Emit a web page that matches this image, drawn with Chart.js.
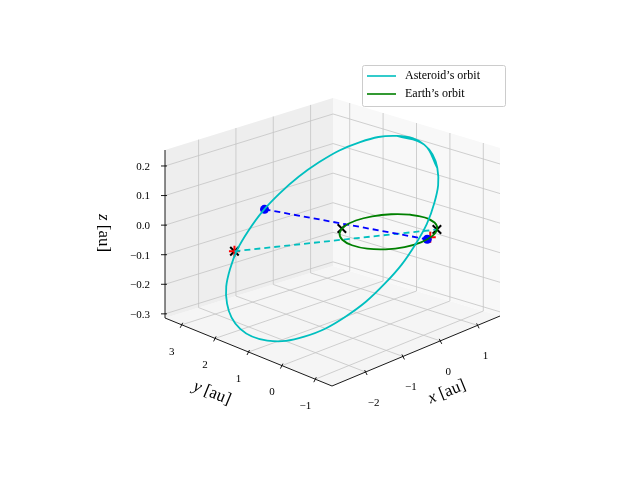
<!DOCTYPE html>
<html>
<head>
<meta charset="utf-8">
<script src="https://cdn.jsdelivr.net/npm/chart.js@4"></script>
<style>
  html, body { margin: 0; padding: 0; background: #fff; }
  canvas { display: block; }
</style>
</head>
<body>
<canvas id="chart" width="640" height="480"></canvas>
<script>
// axis limits and ticks (au)
const xLim = [-2.9, 1.6];
const yLim = [-1.5, 3.5];
const zLim = [-0.314, 0.254];
const xTicks = [-2, -1, 0, 1];
const yTicks = [-1, 0, 1, 2, 3];
const zTicks = [-0.3, -0.2, -0.1, 0.0, 0.1, 0.2];

// asteroid orbit samples (first and last overlap so the closed curve stays smooth)
const asteroidX = [1.49, 1.43, 1.054, 0.418, -0.38, -1.22, -1.974, -2.524, -2.79, -2.73, -2.354, -1.718, -0.92, -0.08, 0.674, 1.224, 1.49, 1.43, 1.054];
const asteroidY = [1.4, 0.5, -0.324, -0.945, -1.271, -1.25, -0.887, -0.237, 0.6, 1.5, 2.324, 2.945, 3.271, 3.25, 2.887, 2.237, 1.4, 0.5, -0.324];
const asteroidZ = [0.214, 0.217, 0.182, 0.115, 0.026, -0.072, -0.164, -0.235, -0.274, -0.277, -0.242, -0.175, -0.086, 0.012, 0.104, 0.175, 0.214, 0.217, 0.182];

// earth orbit samples
const earthX = [0.924, 1, 0.924, 0.707, 0.383, 0, -0.383, -0.707, -0.924, -1, -0.924, -0.707, -0.383, 0, 0.383, 0.707, 0.924, 1, 0.924];
const earthY = [-0.383, 0, 0.383, 0.707, 0.924, 1, 0.924, 0.707, 0.383, 0, -0.383, -0.707, -0.924, -1, -0.924, -0.707, -0.383, 0, 0.383];
const earthZ = [0, 0, 0, 0, 0, 0, 0, 0, 0, 0, 0, 0, 0, 0, 0, 0, 0, 0, 0];

// positions: [asteroid, earth]
const obsFirst = [[-1.368, 3.199, -0.137], [0.68, -0.73, 0]];   // crosses, cyan link
const obsSecond = [[-0.449, 3.303, -0.031], [0.19, -0.98, 0]];  // blue dots, blue link
const earthOther = [-0.5, 0.87, 0];
const predicted = [[-1.368, 3.199, -0.137], [0.3, -0.95, 0]];

function proj(x, y, z) {
  const xn = (x - xLim[0]) / (xLim[1] - xLim[0]);
  const yn = (y - yLim[0]) / (yLim[1] - yLim[0]);
  const zn = (z - zLim[0]) / (zLim[1] - zLim[0]);
  return {
    x: 332 + 168 * xn - 167 * yn,
    y: 386 - 70 * xn - 68 * yn - 168 * zn + 18 * xn * yn
  };
}
const P = p => proj(p[0], p[1], p[2]);

const serif = '"Liberation Serif", "DejaVu Serif", serif';
const fmt = v => (v < 0 ? '\u2212' : '') + Math.abs(v).toString();
const fmtZ = v => (v < 0 ? '\u2212' : '') + Math.abs(v).toFixed(1);

function line(ctx, a, b) {
  ctx.beginPath(); ctx.moveTo(a.x, a.y); ctx.lineTo(b.x, b.y); ctx.stroke();
}
function poly(ctx, pts, fill) {
  ctx.beginPath();
  pts.forEach((p, i) => i ? ctx.lineTo(p.x, p.y) : ctx.moveTo(p.x, p.y));
  ctx.closePath(); ctx.fillStyle = fill; ctx.fill();
}

const boxPlugin = {
  id: 'box3d',
  beforeDatasetsDraw(chart) {
    const ctx = chart.ctx;
    const [x0, x1] = xLim, [y0, y1] = yLim, [z0, z1] = zLim;
    ctx.save();
    // panes
    poly(ctx, [proj(x0, y0, z0), proj(x1, y0, z0), proj(x1, y1, z0), proj(x0, y1, z0)], '#f5f5f5');
    poly(ctx, [proj(x0, y1, z0), proj(x1, y1, z0), proj(x1, y1, z1), proj(x0, y1, z1)], '#eeeeee');
    poly(ctx, [proj(x1, y0, z0), proj(x1, y1, z0), proj(x1, y1, z1), proj(x1, y0, z1)], '#f8f8f8');
    // grid
    ctx.strokeStyle = '#c4c4c4'; ctx.lineWidth = 0.8;
    xTicks.forEach(v => {
      line(ctx, proj(v, y0, z0), proj(v, y1, z0));
      line(ctx, proj(v, y1, z0), proj(v, y1, z1));
    });
    yTicks.forEach(v => {
      line(ctx, proj(x0, v, z0), proj(x1, v, z0));
      line(ctx, proj(x1, v, z0), proj(x1, v, z1));
    });
    zTicks.forEach(v => {
      line(ctx, proj(x0, y1, v), proj(x1, y1, v));
      line(ctx, proj(x1, y1, v), proj(x1, y0, v));
    });
    // axis lines
    ctx.strokeStyle = '#000'; ctx.lineWidth = 0.9;
    line(ctx, proj(x0, y0, z0), proj(x1, y0, z0));
    line(ctx, proj(x0, y0, z0), proj(x0, y1, z0));
    line(ctx, proj(x0, y1, z0), proj(x0, y1, z1));
    // ticks and labels
    ctx.fillStyle = '#000';
    ctx.font = '11px ' + serif;
    ctx.textAlign = 'center'; ctx.textBaseline = 'middle';
    xTicks.forEach(v => {
      const p = proj(v, y0, z0);
      line(ctx, {x: p.x - 1, y: p.y - 2}, {x: p.x + 1.5, y: p.y + 3});
      ctx.fillText(fmt(v), p.x + 8, p.y + 31);
    });
    yTicks.forEach(v => {
      const p = proj(x0, v, z0);
      line(ctx, {x: p.x + 1, y: p.y - 2}, {x: p.x - 1.5, y: p.y + 3});
      ctx.fillText(fmt(v), p.x - 10, p.y + 27);
    });
    ctx.textAlign = 'right';
    zTicks.forEach(v => {
      const p = proj(x0, y1, v);
      line(ctx, {x: p.x + 2, y: p.y}, {x: p.x - 4, y: p.y});
      ctx.fillText(fmtZ(v), p.x - 15, p.y + 1);
    });
    // axis titles
    const title = (txt, x, y, rot) => {
      ctx.save(); ctx.translate(x, y); ctx.rotate(rot);
      ctx.font = '17px ' + serif;
      const sp = ctx.measureText(' ').width;
      const w2 = ctx.measureText(txt.slice(1)).width;
      ctx.font = 'italic 17px ' + serif;
      const w1 = ctx.measureText(txt[0]).width;
      const st = -(w1 + w2) / 2;
      ctx.textAlign = 'left';
      ctx.fillText(txt[0], st, 0);
      ctx.font = '17px ' + serif;
      ctx.fillText(txt.slice(1), st + w1, 0);
      ctx.restore();
    };
    title('x [au]', 447, 392, -0.39);
    title('y [au]', 212, 393, 0.39);
    title('z [au]', 103, 233, Math.PI / 2);
    ctx.restore();
  },
  afterDraw(chart) {
    const ctx = chart.ctx;
    ctx.save();
    ctx.fillStyle = 'rgba(255,255,255,0.85)';
    ctx.strokeStyle = '#cccccc'; ctx.lineWidth = 1;
    ctx.beginPath(); ctx.roundRect(362.5, 65.5, 143, 41, 2); ctx.fill(); ctx.stroke();
    const items = [['Asteroid\u2019s orbit', '#00bfbf'], ['Earth\u2019s orbit', '#008000']];
    ctx.font = '12px ' + serif; ctx.textBaseline = 'middle'; ctx.textAlign = 'left';
    items.forEach((it, i) => {
      const y = 76 + i * 18;
      ctx.strokeStyle = it[1]; ctx.lineWidth = 1.6;
      line(ctx, {x: 367, y}, {x: 396, y});
      ctx.fillStyle = '#000'; ctx.fillText(it[0], 405, y);
    });
    ctx.restore();
  }
};

const curve = (xs, ys, zs) => xs.map((v, i) => proj(v, ys[i], zs[i]));

new Chart(document.getElementById('chart'), {
  type: 'scatter',
  data: {
    datasets: [
      { data: curve(asteroidX, asteroidY, asteroidZ), showLine: true, tension: 0.4, borderColor: '#00bfbf', borderWidth: 1.8, pointRadius: 0 },
      { data: curve(earthX, earthY, earthZ), showLine: true, tension: 0.4, borderColor: '#008000', borderWidth: 1.8, pointRadius: 0 },
      { data: obsSecond.map(P), showLine: true, borderColor: '#0000ff', borderWidth: 1.8, borderDash: [6, 4], pointRadius: 0 },
      { data: obsFirst.map(P), showLine: true, borderColor: '#00bfbf', borderWidth: 1.8, borderDash: [6, 4], pointRadius: 0 },
      { data: obsSecond.map(P), pointStyle: 'circle', pointRadius: 4.5, backgroundColor: '#0000ff', borderColor: '#0000ff', borderWidth: 0 },
      { data: predicted.map(P), pointStyle: 'cross', pointRadius: 5.5, borderColor: '#ff0000', borderWidth: 2 },
      { data: [obsFirst[0], obsFirst[1], earthOther].map(P), pointStyle: 'crossRot', pointRadius: 6, borderColor: '#000000', borderWidth: 2 }
    ]
  },
  options: {
    responsive: false,
    animation: false,
    layout: { padding: 0 },
    plugins: { legend: { display: false }, tooltip: { enabled: false } },
    scales: {
      x: { type: 'linear', min: 0, max: 640, display: false },
      y: { type: 'linear', min: 0, max: 480, reverse: true, display: false }
    }
  },
  plugins: [boxPlugin]
});
</script>
</body>
</html>
